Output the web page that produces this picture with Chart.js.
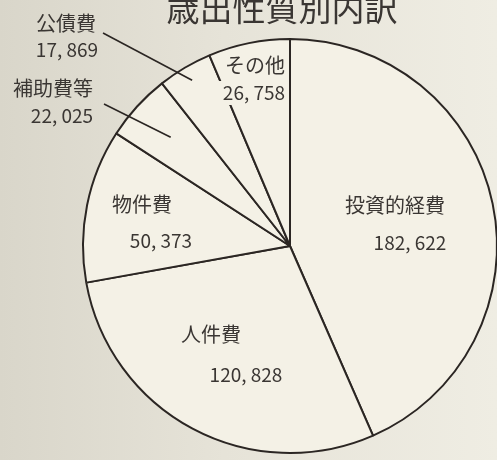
<!DOCTYPE html>
<html lang="ja">

<head>
    <meta charset="UTF-8">
    <script src="https://cdn.jsdelivr.net/npm/chart.js"></script>
    <title>歳出性質別内訳</title>
    <style>
        html, body {
            margin: 0;
            padding: 0;
            width: 497px;
            height: 460px;
            overflow: hidden;
            background: linear-gradient(to right, #d9d6ca 0%, #e6e3d8 45%, #efede3 100%);
        }

        .wrap {
            width: 510px;
            height: 460px;
        }
    </style>
</head>

<body>
    <div class="wrap">
        <canvas id="grafico" width="510" height="460"></canvas>
    </div>

    <script>
        // dados do grafico
        const titulo = '歳出性質別内訳';
        const categorias = ['投資的経費', '人件費', '物件費', '補助費等', '公債費', 'その他'];
        const valores = [182622, 120828, 50373, 22025, 17869, 26758];

        const corLinha = '#2b2623';
        const corTexto = '#3a3633';
        const corPizza = '#f4f1e6';
        const fonte = '"Noto Sans CJK JP", "Noto Sans", sans-serif';

        // posicao dos textos (relativa ao centro) e linhas de chamada
        const rotulos = [
            { nome: [105, -41], valor: [120, -3] },
            { nome: [-79, 88], valor: [-44, 129] },
            { nome: [-148, -42], valor: [-129, -5] },
            { nome: [-237, -158], valor: [-228, -130], linha: [-186, -142], frac: 0.78 },
            { nome: [-224, -223], valor: [-223, -196], linha: [-187, -213], frac: 0.93 },
            { nome: [-35, -181], valor: [-36, -153], fundo: true }
        ];

        function formatar(v) {
            return v.toLocaleString('en-US').replace(/,/g, ', ');
        }

        const rotulosPlugin = {
            id: 'rotulos',
            afterDraw(chart) {
                const ctx = chart.ctx;
                const meta = chart.getDatasetMeta(0);
                ctx.save();

                // titulo
                ctx.fillStyle = corTexto;
                ctx.font = '33px ' + fonte;
                ctx.textAlign = 'center';
                ctx.textBaseline = 'middle';
                ctx.fillText(titulo, 282, 8);

                meta.data.forEach(function (arc, i) {
                    const r = rotulos[i];
                    const cx = arc.x, cy = arc.y;
                    const meio = (arc.startAngle + arc.endAngle) / 2;

                    if (r.linha) {
                        const raio = arc.outerRadius * r.frac;
                        ctx.strokeStyle = corLinha;
                        ctx.lineWidth = 1.6;
                        ctx.beginPath();
                        ctx.moveTo(cx + r.linha[0], cy + r.linha[1]);
                        ctx.lineTo(cx + Math.cos(meio) * raio, cy + Math.sin(meio) * raio);
                        ctx.stroke();
                    }

                    const texto = formatar(valores[i]);
                    ctx.font = '20px ' + fonte;
                    if (r.fundo) {
                        const w = ctx.measureText(texto).width;
                        ctx.fillStyle = corPizza;
                        ctx.fillRect(cx + r.valor[0] - w / 2 - 3, cy + r.valor[1] - 12, w + 4, 24);
                    }
                    ctx.fillStyle = corTexto;
                    ctx.fillText(categorias[i], cx + r.nome[0], cy + r.nome[1]);
                    ctx.font = '19px ' + fonte;
                    ctx.fillText(texto, cx + r.valor[0], cy + r.valor[1]);
                });

                ctx.restore();
            }
        };

        const dados = {
            labels: categorias,
            datasets: [{
                data: valores,
                backgroundColor: corPizza,
                borderColor: corLinha,
                borderWidth: 2
            }]
        };

        const config = {
            type: 'pie',
            data: dados,
            options: {
                responsive: false,
                animation: false,
                devicePixelRatio: 1,
                layout: {
                    padding: { left: 82, right: 12, top: 38, bottom: 6 }
                },
                plugins: {
                    legend: { display: false },
                    tooltip: { enabled: false }
                }
            },
            plugins: [rotulosPlugin]
        };

        let grafico = new Chart(document.getElementById('grafico'), config);
    </script>
</body>

</html>
